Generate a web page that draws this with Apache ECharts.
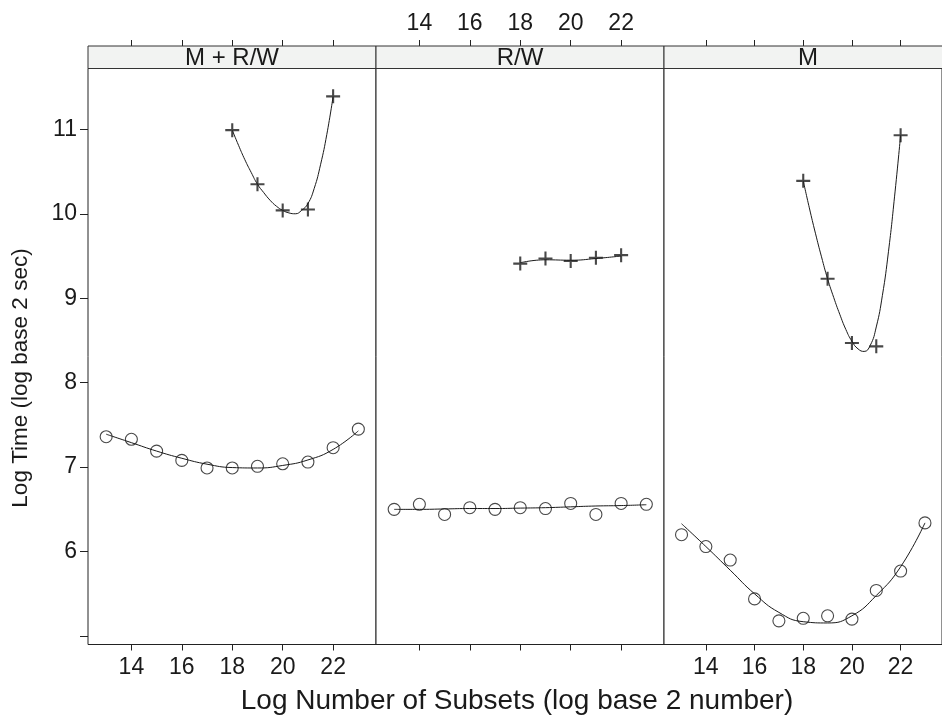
<!DOCTYPE html>
<html><head><meta charset="utf-8">
<script src="https://cdn.jsdelivr.net/npm/echarts@6/dist/echarts.min.js"></script>
<style>html,body{margin:0;padding:0;background:#fff}#c{width:942px;height:716px}</style>
</head><body><div id="c"></div>
<script>
// ---- data ----
const panelNames = ['M + R/W', 'R/W', 'M'];
const xTicks = [14, 16, 18, 20, 22];
const yTicks = [5, 6, 7, 8, 9, 10, 11];
const yLabels = [6, 7, 8, 9, 10, 11];
const circleX = [13, 14, 15, 16, 17, 18, 19, 20, 21, 22, 23];
const plusX = [18, 19, 20, 21, 22];
const plusFitX = [18, 18.25, 18.5, 18.75, 19, 19.25, 19.5, 19.75, 20, 20.25, 20.5, 20.75, 21, 21.25, 21.5, 21.75, 22];

const mrwCircle = [7.36, 7.33, 7.19, 7.08, 6.99, 6.99, 7.01, 7.04, 7.06, 7.23, 7.45];
const rwCircle  = [6.50, 6.56, 6.44, 6.52, 6.50, 6.52, 6.51, 6.57, 6.44, 6.57, 6.56];
const mCircle   = [6.20, 6.06, 5.90, 5.44, 5.18, 5.21, 5.24, 5.20, 5.54, 5.77, 6.34];

const mrwPlus = [10.99, 10.35, 10.04, 10.05, 11.39];
const rwPlus  = [9.41, 9.47, 9.44, 9.48, 9.51];
const mPlus   = [10.39, 9.23, 8.47, 8.43, 10.93];

// smooth fitted curves
const mrwCircleFit = [7.39, 7.29, 7.19, 7.105, 7.035, 6.995, 6.99, 7.02, 7.085, 7.21, 7.43];
const rwCircleFit  = [6.50, 6.50, 6.505, 6.51, 6.51, 6.515, 6.52, 6.53, 6.54, 6.545, 6.555];
const mCircleFit   = [6.33, 6.06, 5.78, 5.50, 5.28, 5.17, 5.155, 5.24, 5.48, 5.82, 6.34];

const mrwPlusFit = [10.99, 10.81, 10.64, 10.49, 10.35, 10.25, 10.16, 10.09, 10.04, 10.01, 10.00, 10.04, 10.12, 10.30, 10.58, 10.94, 11.39];
const rwPlusFit  = [9.42, 9.455, 9.45, 9.47, 9.50];
const mPlusFit   = [10.39, 10.07, 9.77, 9.49, 9.23, 9.01, 8.81, 8.63, 8.49, 8.40, 8.37, 8.44, 8.66, 9.03, 9.55, 10.20, 10.93];

// ---- layout ----
const L0 = 88, PW = 288, TOP = 68.5, PH = 576, STRIP = 22.5;
const XMIN = 12.28, XMAX = 23.7, YMIN = 4.9, YMAX = 11.72;
const FONT = 'Liberation Sans, Arial, sans-serif';
const INK = '#1a1a1a';
const PLUS = 'path://M5.1,0h1.8v5.1h5.1v1.8h-5.1v5.1h-1.8v-5.1h-5.1v-1.8h5.1z';

const circleSets = [mrwCircle, rwCircle, mCircle];
const plusSets = [mrwPlus, rwPlus, mPlus];
const circleFits = [mrwCircleFit, rwCircleFit, mCircleFit];
const plusFits = [mrwPlusFit, rwPlusFit, mPlusFit];
const plusFitXs = [plusFitX, plusX, plusFitX];

const zip = (xs, ys) => xs.map((x, k) => [x, ys[k]]);

const grids = [], xAxes = [], yAxes = [], series = [], graphics = [];
for (let i = 0; i < 3; i++) {
  grids.push({left: L0 + i * PW, top: TOP, width: PW, height: PH, show: true,
    borderColor: '#222', borderWidth: 1, backgroundColor: '#fff'});
  xAxes.push({type: 'value', gridIndex: i, position: 'bottom', min: XMIN, max: XMAX,
    axisLine: {show: false}, splitLine: {show: false},
    axisTick: {show: true, inside: false, length: 6, customValues: xTicks, lineStyle: {color: '#222'}},
    axisLabel: {show: i !== 1, customValues: xTicks, margin: 12, fontSize: 23, color: INK, fontFamily: FONT}});
  xAxes.push({type: 'value', gridIndex: i, position: 'top', offset: STRIP, min: XMIN, max: XMAX,
    axisLine: {show: false}, splitLine: {show: false},
    axisTick: {show: true, inside: false, length: 6, customValues: xTicks, lineStyle: {color: '#222'}},
    axisLabel: {show: i === 1, customValues: xTicks, margin: 11, fontSize: 23, color: INK, fontFamily: FONT}});
  yAxes.push({type: 'value', gridIndex: i, position: 'left', min: YMIN, max: YMAX, show: i === 0,
    axisLine: {show: false}, splitLine: {show: false},
    axisTick: {show: true, inside: false, length: 8, customValues: yTicks, lineStyle: {color: '#222'}},
    axisLabel: {show: true, customValues: yLabels, margin: 11, fontSize: 23, color: INK, fontFamily: FONT}});

  const xa = 2 * i;
  series.push({type: 'line', xAxisIndex: xa, yAxisIndex: i, data: zip(circleX, circleFits[i]),
    smooth: 0.5, showSymbol: false, symbol: 'none', lineStyle: {color: INK, width: 1}, z: 2, silent: true});
  series.push({type: 'line', xAxisIndex: xa, yAxisIndex: i, data: zip(plusFitXs[i], plusFits[i]),
    smooth: 0.5, showSymbol: false, symbol: 'none', lineStyle: {color: INK, width: 1}, z: 2, silent: true});
  series.push({type: 'scatter', xAxisIndex: xa, yAxisIndex: i, data: zip(circleX, circleSets[i]),
    symbol: 'circle', symbolSize: 12,
    itemStyle: {color: 'transparent', borderColor: INK, borderWidth: 1.1}, z: 3, silent: true});
  series.push({type: 'scatter', xAxisIndex: xa, yAxisIndex: i, data: zip(plusX, plusSets[i]),
    symbol: PLUS, symbolSize: 14, itemStyle: {color: INK}, z: 3, silent: true});

  graphics.push({type: 'rect', shape: {x: L0 + i * PW, y: TOP - STRIP, width: PW, height: STRIP},
    style: {fill: '#f2f3f2', stroke: '#333', lineWidth: 1}, z: 10});
  graphics.push({type: 'text', x: L0 + i * PW + PW / 2, y: TOP - STRIP / 2 + 1.5,
    style: {text: panelNames[i], font: '24px ' + FONT, fill: INK, textAlign: 'center', textVerticalAlign: 'middle'}, z: 11});
}
graphics.push({type: 'text', x: 21, y: 378, rotation: Math.PI / 2,
  style: {text: 'Log Time (log base 2 sec)', font: '22.5px ' + FONT, fill: INK, textAlign: 'center', textVerticalAlign: 'middle'}});
graphics.push({type: 'text', x: 517, y: 701,
  style: {text: 'Log Number of Subsets (log base 2 number)', font: '28px ' + FONT, fill: INK, textAlign: 'center', textVerticalAlign: 'middle'}});

const chart = echarts.init(document.getElementById('c'), null, {renderer: 'canvas'});
chart.setOption({
  animation: false,
  backgroundColor: '#fff',
  grid: grids, xAxis: xAxes, yAxis: yAxes, series: series, graphic: graphics
});
</script></body></html>
